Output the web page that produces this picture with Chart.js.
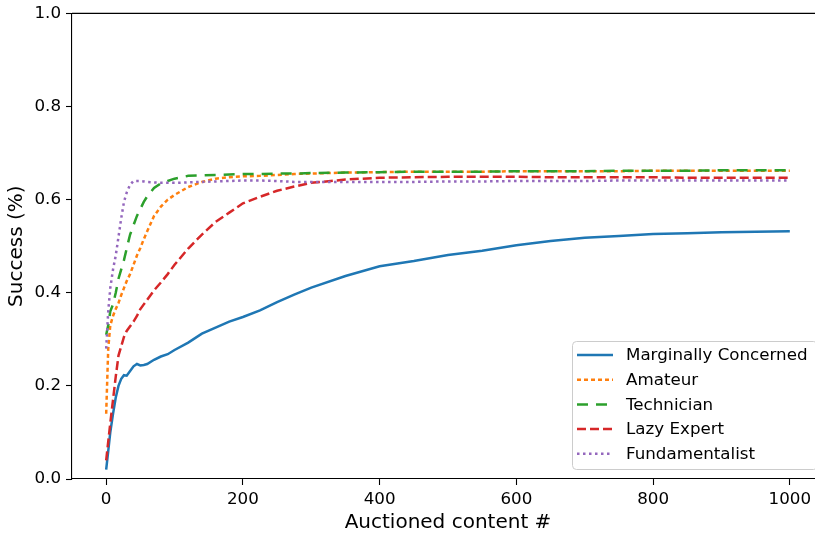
<!DOCTYPE html>
<html lang="en">
<head>
    <meta charset="UTF-8">
    <title>Success</title>
    <style>
      html, body { margin: 0; padding: 0; overflow: hidden; background: #fff; }
      canvas { display: block; }
    </style>
</head>
<body>
<canvas id="successChart" width="900" height="535"></canvas>

<script src="https://cdn.jsdelivr.net/npm/chart.js@4.4.0/dist/chart.umd.min.js"></script>

<script>
  const CONTENT = [0, 3, 6, 10, 14, 18, 22, 26, 30, 35, 40, 45, 50, 55, 60, 70, 80, 90, 100,
    120, 140, 160, 180, 200, 225, 250, 275, 300, 350, 400, 450, 500, 550, 600, 650, 700,
    750, 800, 850, 900, 950, 1000];

  const marginallyConcerned = [0.02, 0.06, 0.10, 0.14, 0.175, 0.20, 0.215, 0.223, 0.222, 0.232,
    0.242, 0.247, 0.244, 0.245, 0.247, 0.256, 0.263, 0.268, 0.277, 0.293, 0.312, 0.325, 0.338,
    0.348, 0.362, 0.380, 0.396, 0.411, 0.436, 0.457, 0.468, 0.481, 0.490, 0.502, 0.511, 0.518,
    0.522, 0.526, 0.528, 0.530, 0.531, 0.532];

  const amateur = [0.14, 0.28, 0.33, 0.35, 0.365, 0.378, 0.395, 0.41, 0.425, 0.44, 0.46, 0.48,
    0.496, 0.515, 0.532, 0.565, 0.585, 0.60, 0.61, 0.627, 0.638, 0.645, 0.648, 0.650, 0.651,
    0.653, 0.655, 0.656, 0.658, 0.659, 0.660, 0.660, 0.660, 0.661, 0.661, 0.661, 0.661, 0.662,
    0.662, 0.662, 0.662, 0.662];

  const technician = [0.31, 0.33, 0.36, 0.375, 0.40, 0.43, 0.45, 0.47, 0.495, 0.525, 0.545,
    0.565, 0.58, 0.595, 0.607, 0.625, 0.635, 0.64, 0.645, 0.651, 0.652, 0.653, 0.654, 0.655,
    0.655, 0.656, 0.656, 0.657, 0.658, 0.659, 0.660, 0.660, 0.660, 0.661, 0.661, 0.661, 0.662,
    0.662, 0.662, 0.663, 0.663, 0.663];

  const lazyExpert = [0.04, 0.08, 0.12, 0.17, 0.22, 0.265, 0.285, 0.305, 0.318, 0.328, 0.338,
    0.35, 0.365, 0.375, 0.385, 0.405, 0.422, 0.44, 0.46, 0.495, 0.525, 0.552, 0.572, 0.592,
    0.606, 0.619, 0.628, 0.636, 0.643, 0.647, 0.648, 0.649, 0.649, 0.649, 0.648, 0.648, 0.648,
    0.648, 0.647, 0.647, 0.647, 0.647];

  const fundamentalist = [0.28, 0.36, 0.41, 0.45, 0.48, 0.52, 0.56, 0.595, 0.615, 0.632, 0.64,
    0.64, 0.64, 0.639, 0.638, 0.637, 0.636, 0.636, 0.636, 0.637, 0.638, 0.639, 0.640, 0.641,
    0.641, 0.640, 0.638, 0.638, 0.638, 0.638, 0.638, 0.639, 0.639, 0.640, 0.640, 0.640, 0.641,
    0.641, 0.641, 0.641, 0.641, 0.641];

  const X_TICKS = [0, 200, 400, 600, 800, 1000];
  const Y_TICKS = [0, 0.2, 0.4, 0.6, 0.8, 1.0];

  const FONT = 'DejaVu Sans';

  function series(label, values, color, dash, order) {
    return {
      label,
      data: CONTENT.map((x, i) => ({x, y: values[i]})),
      borderColor: color,
      backgroundColor: color,
      borderDash: dash,
      borderWidth: 2.5,
      pointRadius: 0,
      tension: 0,
      fill: false,
      order
    };
  }

  // top spine + legend box inside the axes (lower right, like matplotlib)
  const framePlugin = {
    id: 'frame',
    afterDatasetsDraw(chart) {
      const {ctx, chartArea} = chart;
      ctx.save();
      ctx.strokeStyle = '#000';
      ctx.lineWidth = 1.1;
      ctx.beginPath();
      ctx.moveTo(chartArea.left, chartArea.top);
      ctx.lineTo(chartArea.right, chartArea.top);
      ctx.stroke();

      const bx = 572.5, by = 341.5, bw = 245, bh = 128, r = 4;
      ctx.lineWidth = 1;
      ctx.beginPath();
      ctx.roundRect(bx, by, bw, bh, r);
      ctx.fillStyle = 'rgba(255,255,255,0.8)';
      ctx.fill();
      ctx.strokeStyle = '#cccccc';
      ctx.stroke();

      ctx.font = '16.7px "' + FONT + '"';
      ctx.textBaseline = 'middle';
      ctx.textAlign = 'left';
      chart.data.datasets.forEach((ds, i) => {
        const y = 355 + i * 24.7;
        ctx.beginPath();
        ctx.setLineDash(ds.borderDash);
        ctx.lineWidth = ds.borderWidth;
        ctx.strokeStyle = ds.borderColor;
        ctx.moveTo(577, y);
        ctx.lineTo(613, y);
        ctx.stroke();
        ctx.setLineDash([]);
        ctx.fillStyle = '#000';
        ctx.fillText(ds.label, 626, y + 1);
      });
      ctx.restore();
    }
  };

  const config = {
    type: 'line',
    data: {
      datasets: [
        series('Marginally Concerned', marginallyConcerned, '#1f77b4', [], 5),
        series('Amateur', amateur, '#ff7f0e', [4, 3], 4),
        series('Technician', technician, '#2ca02c', [11, 8], 3),
        series('Lazy Expert', lazyExpert, '#d62728', [9, 4], 2),
        series('Fundamentalist', fundamentalist, '#9467bd', [2.5, 3.5], 1)
      ]
    },
    options: {
      responsive: false,
      animation: false,
      devicePixelRatio: 1,
      layout: {padding: {left: 0, right: 76, top: 12, bottom: 0}},
      plugins: {
        legend: {display: false},
        tooltip: {enabled: false}
      },
      scales: {
        x: {
          type: 'linear',
          min: -50,
          max: 1050,
          afterBuildTicks: (scale) => { scale.ticks = X_TICKS.map(v => ({value: v})); },
          afterFit: (scale) => { scale.height = 56; },
          grid: {display: true, drawOnChartArea: false, drawTicks: true, tickLength: 6, color: '#000', tickWidth: 1.1},
          border: {display: true, color: '#000', width: 1.1},
          ticks: {color: '#000', font: {family: FONT, size: 16.7}, padding: 5, maxRotation: 0,
            callback: (v) => String(v)},
          title: {display: true, text: 'Auctioned content #', color: '#000',
            font: {family: FONT, size: 20}, padding: {top: 0, bottom: 0}}
        },
        y: {
          type: 'linear',
          min: 0,
          max: 1,
          afterBuildTicks: (scale) => { scale.ticks = Y_TICKS.map(v => ({value: v})); },
          afterFit: (scale) => { scale.width = 72; },
          grid: {display: true, drawOnChartArea: false, drawTicks: true, tickLength: 6, color: '#000', tickWidth: 1.1},
          border: {display: true, color: '#000', width: 1.1},
          ticks: {color: '#000', font: {family: FONT, size: 16.7, lineHeight: 1}, padding: 5,
            callback: (v) => v.toFixed(1)},
          title: {display: true, text: 'Success (%)', color: '#000',
            font: {family: FONT, size: 20}, padding: {top: 5, bottom: 0}}
        }
      }
    },
    plugins: [framePlugin]
  };

  new Chart(document.getElementById('successChart'), config);
</script>
</body>
</html>
